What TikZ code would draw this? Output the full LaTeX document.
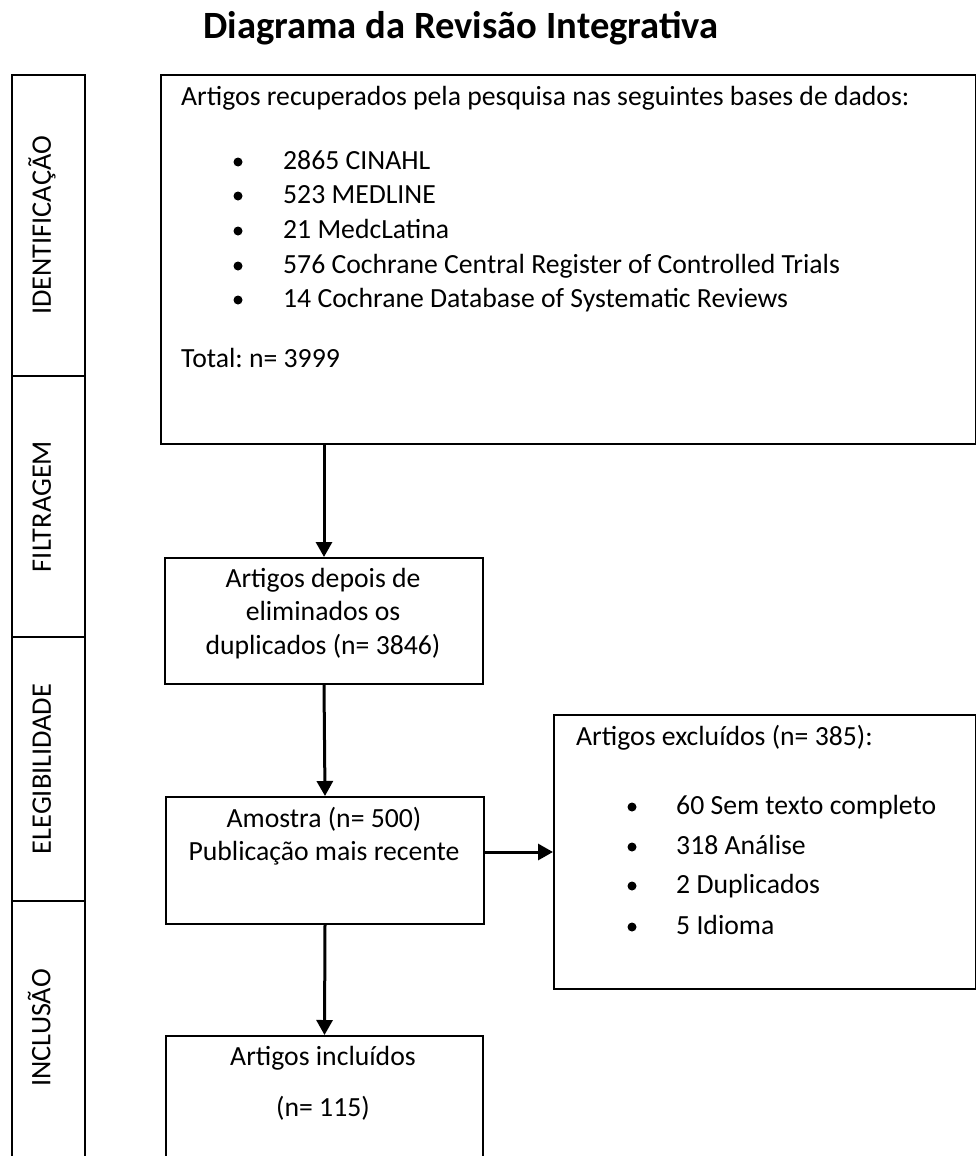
\documentclass[tikz,border=0pt]{standalone}
\usepackage{fontspec}
\setmainfont{Carlito}
\usetikzlibrary{arrows.meta}
\frenchspacing

\newcommand\bodysize{\fontsize{27.7}{33}\selectfont}
\newcommand\phasesize{\fontsize{28.3}{33}\selectfont}
\newcommand\titlesize{\fontsize{38.6}{44}\selectfont}

\tikzset{
  frame/.style={draw=black, line width=2pt, rectangle, inner sep=0pt, anchor=north west},
  flow/.style={line width=3pt, -{Triangle[width=16pt,length=15pt]}},
  txt/.style={inner sep=0pt, font=\bodysize, text=black},
  lefttxt/.style={txt, anchor=mid west},
  ctrtxt/.style={txt, anchor=mid},
  dot/.style={circle, fill=black, inner sep=0pt, minimum size=9pt},
  phase/.style={inner sep=0pt, font=\phasesize, rotate=90, anchor=mid},
}

\begin{document}
\begin{tikzpicture}[x=1pt, y=-1pt]
  \useasboundingbox (0,0) rectangle (976,1156);
  \clip (0,0) rectangle (976,1156);
  \fill[white] (0,0) rectangle (976,1156);

  % title
  \node[inner sep=0pt, anchor=base, font=\titlesize\bfseries] (title) at (461,38) {Diagrama da Revisão Integrativa};

  % phase column
  \node[frame, minimum width=73pt, minimum height=301pt] (p1) at (11,74) {};
  \node[frame, minimum width=73pt, minimum height=261pt] (p2) at (11,375) {};
  \node[frame, minimum width=73pt, minimum height=264pt] (p3) at (11,636) {};
  \node[frame, minimum width=73pt, minimum height=280pt] (p4) at (11,900) {};
  \node[phase] (l1) at (p1.center) {IDENTIFICAÇÃO};
  \node[phase] (l2) at (p2.center) {FILTRAGEM};
  \node[phase] (l3) at (p3.center) {ELEGIBILIDADE};
  \node[phase] (l4) at (48,1028) {INCLUSÃO};

  % boxes
  \node[frame, minimum width=815pt, minimum height=369pt] (b1) at (160,74) {};
  \node[frame, minimum width=318pt, minimum height=126pt] (b2) at (164,557) {};
  \node[frame, minimum width=318pt, minimum height=127pt] (b3) at (165,796) {};
  \node[frame, minimum width=317pt, minimum height=160pt] (b4) at (165,1035) {};
  \node[frame, minimum width=422pt, minimum height=274pt] (ex) at (553,714) {};

  % identification box text
  \node[lefttxt] (h1) at (181,103) {Artigos recuperados pela pesquisa nas seguintes bases de dados:};
  \foreach \y/\t [count=\i] in {167/2865 CINAHL, 201/523 MEDLINE, 236/21 MedcLatina,
      271/576 Cochrane Central Register of Controlled Trials, 305/14 Cochrane Database of Systematic Reviews} {
    \node[dot] (bd\i) at (238,\y-5) {};
    \node[lefttxt] (bt\i) at (283,\y) {\t};
  }
  \node[lefttxt] (tot) at (181,365) {Total: n= 3999};

  % screening box text
  \node[ctrtxt] (s1) at (323,585) {Artigos depois de};
  \node[ctrtxt] (s2) at (323,618) {eliminados os};
  \node[ctrtxt] (s3) at (323,652) {duplicados (n= 3846)};

  % sample box text
  \node[ctrtxt] (a1) at (324,825) {Amostra (n= 500)};
  \node[ctrtxt] (a2) at (324,858) {Publicação mais recente};

  % included box text
  \node[ctrtxt] (i1) at (323,1063) {Artigos incluídos};
  \node[ctrtxt] (i2) at (323,1114) {(n= 115)};

  % excluded box text
  \node[lefttxt] (e0) at (576,743) {Artigos excluídos (n= 385):};
  \foreach \y/\t [count=\i] in {812/60 Sem texto completo, 852/318 Análise, 891/2 Duplicados, 932/5 Idioma} {
    \node[dot] (ed\i) at (632,\y-5) {};
    \node[lefttxt] (et\i) at (676,\y) {\t};
  }

  % connectors
  \draw[flow] (b2.north |- b1.south) -- (b2.north);
  \draw[flow] (b2.south) -- (b3.north);
  \draw[flow] (b3.south) -- (b4.north);
  \draw[flow] (b3.east |- ex.west) -- (ex.west);
\end{tikzpicture}
\end{document}
